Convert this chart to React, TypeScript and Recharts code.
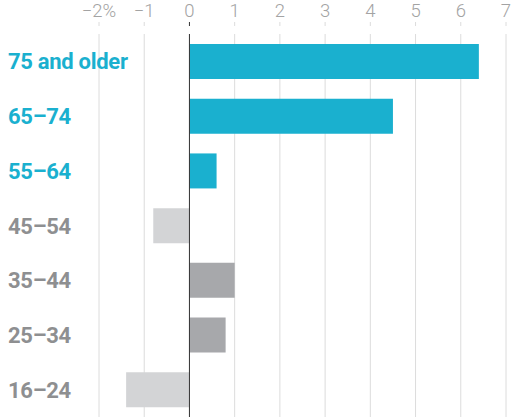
import React from "react";
import { BarChart, Bar, XAxis, YAxis, CartesianGrid, Cell, ReferenceLine } from "recharts";

const categories = ["75 and older", "65–74", "55–64", "45–54", "35–44", "25–34", "16–24"];
const values = [6.4, 4.5, 0.6, -0.8, 1.0, 0.8, -1.4];
const highlighted = [true, true, true, false, false, false, false];
const xTicks = [-2, -1, 0, 1, 2, 3, 4, 5, 6, 7];
const xTickLabels = ["−2%", "−1", "0", "1", "2", "3", "4", "5", "6", "7"];

const TEAL = "#1ab0cf";
const DARK_GRAY = "#a7a8ab";
const LIGHT_GRAY = "#d3d4d6";

const data = categories.map((c, i) => ({ name: c, value: values[i], hl: highlighted[i] }));

const barColor = (d: { value: number; hl: boolean }) => (d.hl ? TEAL : d.value > 0 ? DARK_GRAY : LIGHT_GRAY);

const XTick = (props: any) => {
  const { x, y, payload } = props;
  const idx = xTicks.indexOf(payload.value);
  return (
    <g>
      <line x1={x} x2={x} y1={y - 4} y2={y} stroke={payload.value === 0 ? "#333" : "#dcdcdc"} strokeWidth={1} />
      <text x={x} y={y - 9.5} textAnchor="middle" fill="#a3a3a3" fontFamily="Roboto" fontWeight={300} fontSize={18.5}>
        {xTickLabels[idx]}
      </text>
    </g>
  );
};

const YTick = (props: any) => {
  const { y, payload } = props;
  const i = categories.indexOf(payload.value);
  const color = highlighted[i] ? TEAL : "#8e8f91";
  return (
    <text x={8} y={y} dy={8} textAnchor="start" fill={color} fontFamily="Roboto" fontWeight={700} fontSize={22} letterSpacing={-0.3}>
      {payload.value}
    </text>
  );
};

export default function App() {
  return (
    <div style={{ position: "absolute", left: 0, top: 0, background: "#fff" }}>
      <BarChart
        width={511}
        height={419}
        data={data}
        layout="vertical"
        margin={{ top: 0, right: 5, bottom: 2, left: 0 }}
      >
        <CartesianGrid horizontal={false} vertical={true} stroke="#dcdcdc" strokeWidth={1} />
        <XAxis
          type="number"
          orientation="top"
          domain={[-2, 7]}
          ticks={xTicks}
          height={34}
          axisLine={false}
          tickLine={false}
          tick={<XTick />}
          interval={0}
        />
        <YAxis
          type="category"
          dataKey="name"
          width={99}
          axisLine={false}
          tickLine={false}
          tick={<YTick />}
          interval={0}
        />
        <Bar dataKey="value" barSize={35} isAnimationActive={false}>
          {data.map((d, i) => (
            <Cell key={i} fill={barColor(d)} />
          ))}
        </Bar>
        <ReferenceLine x={0} stroke="#333" strokeWidth={1} />
      </BarChart>
    </div>
  );
}
